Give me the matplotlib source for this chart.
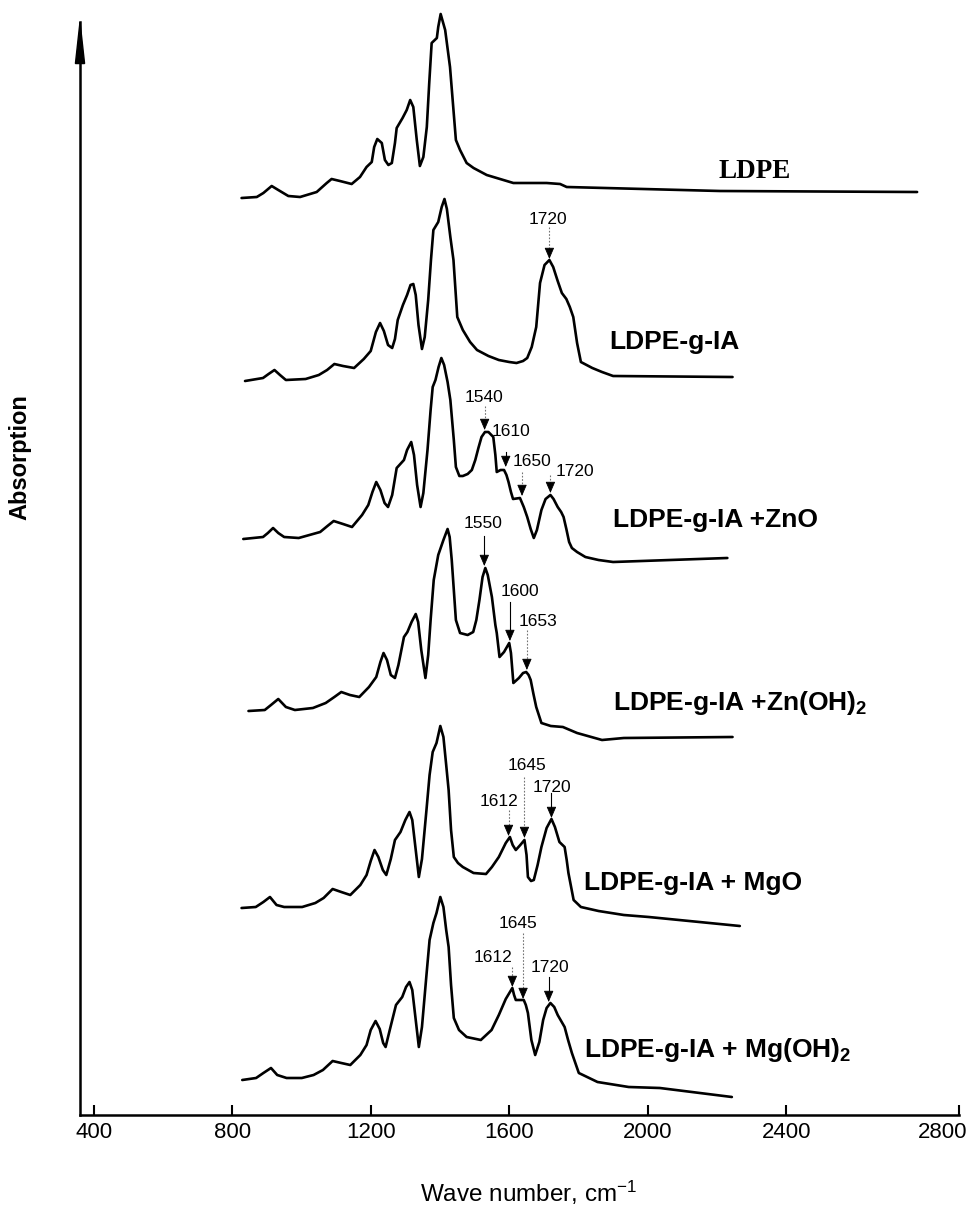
import matplotlib
matplotlib.use("Agg")
import matplotlib.pyplot as plt
import matplotlib.transforms as mtransforms
from matplotlib.patches import Polygon

plt.rcParams['font.family'] = ['Liberation Sans', 'DejaVu Sans']
plt.rcParams['mathtext.default'] = 'regular'

# spectra: wave number (cm-1) and absorption (a.u., stacked)
ldpe_wn = [827, 871, 890, 914, 933, 962, 996, 1044, 1073, 1087, 1111, 1145, 1169, 1188,
           1203, 1210, 1219, 1232, 1241, 1251, 1261, 1270, 1275, 1292, 1304, 1314, 1323,
           1333, 1342, 1352, 1362, 1369, 1376, 1391, 1395, 1402, 1415, 1429, 1439, 1446,
           1458, 1477, 1497, 1535, 1612, 1708, 1747, 1766, 2209, 2778]
ldpe_abs = [91.7, 91.8, 92.2, 92.9, 92.5, 91.9, 91.8, 92.3, 93.2, 93.6, 93.4, 93.1, 93.8,
            94.8, 95.3, 96.8, 97.6, 97.2, 95.5, 95.0, 95.2, 97.2, 98.7, 99.7, 100.5, 101.5,
            100.8, 97.5, 94.9, 95.8, 98.8, 103.2, 107.2, 107.7, 108.8, 110.1, 108.5, 104.8,
            100.5, 97.5, 96.5, 95.2, 94.7, 94.0, 93.2, 93.2, 93.1, 92.8, 92.4, 92.3]

ia_wn = [837, 889, 905, 922, 938, 955, 1012, 1050, 1074, 1095, 1120, 1152, 1180, 1200,
         1215, 1227, 1238, 1250, 1262, 1270, 1278, 1286, 1293, 1305, 1315, 1323, 1330,
         1338, 1348, 1356, 1366, 1374, 1381, 1395, 1405, 1413, 1420, 1430, 1439, 1450,
         1466, 1487, 1507, 1540, 1570, 1600, 1621, 1640, 1652, 1665, 1678, 1689, 1702,
         1716, 1727, 1740, 1752, 1765, 1775, 1785, 1796, 1807, 1840, 1868, 1900, 2245]
ia_abs = [73.4, 73.7, 74.1, 74.5, 74.0, 73.5, 73.6, 74.0, 74.5, 75.1, 74.9, 74.7, 75.6,
          76.4, 78.3, 79.2, 78.4, 77.0, 76.7, 77.6, 79.5, 80.3, 81.0, 82.0, 83.0, 83.1,
          82.0, 79.0, 76.6, 77.8, 81.5, 85.5, 88.5, 89.3, 90.8, 91.6, 90.6, 87.8, 85.5,
          79.8, 78.5, 77.3, 76.5, 75.9, 75.5, 75.3, 75.2, 75.4, 75.7, 76.8, 78.8, 83.2,
          85.0, 85.5, 84.8, 83.4, 82.2, 81.6, 80.8, 79.8, 77.2, 75.3, 74.7, 74.3, 73.9,
          73.8]

zno_wn = [832, 889, 903, 918, 933, 950, 992, 1054, 1075, 1093, 1120, 1146, 1175, 1193,
          1205, 1216, 1228, 1240, 1250, 1262, 1275, 1296, 1305, 1317, 1325, 1334, 1344,
          1352, 1364, 1373, 1379, 1387, 1396, 1404, 1412, 1422, 1430, 1440, 1446, 1456,
          1466, 1480, 1492, 1502, 1511, 1520, 1530, 1540, 1554, 1560, 1564, 1575, 1585,
          1592, 1598, 1605, 1611, 1631, 1642, 1652, 1662, 1671, 1680, 1693, 1705, 1719,
          1728, 1740, 1750, 1757, 1765, 1773, 1781, 1796, 1820, 1858, 1900, 2230]
zno_abs = [57.6, 57.8, 58.2, 58.7, 58.2, 57.8, 57.7, 58.3, 58.9, 59.4, 59.1, 58.8, 60.0,
           61.0, 62.3, 63.3, 62.5, 61.2, 60.8, 62.0, 64.7, 65.5, 66.5, 67.3, 66.0, 63.0,
           60.8, 62.2, 66.5, 70.5, 72.8, 73.5, 74.8, 75.7, 75.0, 73.3, 71.5, 67.5, 64.8,
           63.9, 63.9, 64.1, 64.5, 65.5, 66.7, 67.8, 68.3, 68.3, 67.8, 66.0, 64.3, 64.5,
           64.5, 64.0, 63.3, 62.3, 61.6, 61.7, 60.8, 59.8, 58.6, 57.7, 58.5, 60.5, 61.6,
           62.0, 61.6, 60.8, 60.3, 59.8, 58.6, 57.3, 56.7, 56.3, 55.8, 55.5, 55.3, 55.7]

znoh_wn = [847, 894, 912, 933, 955, 981, 1033, 1070, 1095, 1115, 1140, 1167, 1195, 1216,
           1228, 1237, 1247, 1258, 1270, 1280, 1296, 1306, 1318, 1330, 1337, 1346, 1358,
           1366, 1373, 1382, 1395, 1410, 1422, 1428, 1434, 1440, 1446, 1458, 1480, 1496,
           1505, 1514, 1523, 1531, 1538, 1550, 1560, 1564, 1572, 1585, 1600, 1605, 1612,
           1628, 1640, 1649, 1656, 1662, 1670, 1678, 1693, 1720, 1755, 1796, 1868, 1931,
           2245]
znoh_abs = [40.4, 40.5, 41.0, 41.6, 40.8, 40.5, 40.7, 41.2, 41.8, 42.3, 42.0, 41.8, 42.8,
            43.8, 45.3, 46.2, 45.5, 44.0, 43.7, 45.0, 47.8, 48.3, 49.3, 50.1, 49.3, 46.5,
            43.7, 46.0, 49.5, 53.5, 56.0, 57.5, 58.6, 57.8, 55.5, 52.5, 49.5, 48.2, 48.0,
            48.3, 49.5, 51.5, 53.8, 54.7, 54.0, 51.8, 49.0, 48.2, 45.8, 46.3, 47.2, 46.2,
            43.2, 43.7, 44.2, 44.3, 44.0, 43.5, 42.1, 40.8, 39.2, 38.9, 38.8, 38.2, 37.5,
            37.7, 37.8]

mgo_wn = [827, 868, 890, 909, 928, 950, 1002, 1040, 1064, 1090, 1115, 1141, 1170, 1188,
          1200, 1211, 1222, 1235, 1245, 1258, 1270, 1286, 1300, 1312, 1320, 1330, 1339,
          1348, 1361, 1370, 1379, 1390, 1401, 1410, 1418, 1425, 1432, 1440, 1452, 1466,
          1497, 1533, 1550, 1570, 1590, 1602, 1610, 1619, 1632, 1644, 1650, 1654, 1663,
          1671, 1682, 1693, 1708, 1722, 1732, 1745, 1760, 1766, 1771, 1786, 1807, 1858,
          1931, 2003, 2266]
mgo_abs = [20.7, 20.8, 21.3, 21.8, 21.0, 20.8, 20.8, 21.2, 21.7, 22.6, 22.3, 22.0, 23.0,
           24.0, 25.4, 26.5, 25.8, 24.5, 24.0, 25.6, 27.5, 28.3, 29.5, 30.3, 29.5, 26.5,
           23.8, 25.6, 30.5, 34.0, 36.3, 37.2, 38.9, 37.8, 35.0, 32.5, 28.5, 25.8, 25.2,
           24.8, 24.2, 24.1, 24.8, 25.8, 27.2, 27.8, 27.0, 26.5, 27.0, 27.5, 26.0, 23.8,
           23.4, 23.5, 25.0, 26.8, 28.7, 29.6, 28.8, 27.3, 26.8, 25.5, 24.2, 21.5, 20.8,
           20.4, 20.0, 19.8, 18.9]

mgoh_wn = [829, 869, 890, 912, 930, 957, 1001, 1035, 1062, 1090, 1115, 1141, 1170, 1188,
           1200, 1214, 1226, 1236, 1243, 1255, 1273, 1291, 1302, 1312, 1320, 1330, 1339,
           1348, 1361, 1370, 1381, 1390, 1401, 1410, 1418, 1425, 1432, 1440, 1455, 1477,
           1518, 1549, 1570, 1590, 1609, 1614, 1619, 1642, 1648, 1654, 1664, 1675, 1687,
           1698, 1708, 1719, 1730, 1740, 1760, 1770, 1781, 1801, 1855, 1945, 2035, 2243]
mgoh_abs = [3.5, 3.7, 4.2, 4.7, 4.0, 3.7, 3.7, 4.0, 4.5, 5.4, 5.2, 5.0, 6.0, 7.0, 8.5,
            9.4, 8.6, 7.2, 6.8, 8.5, 11.0, 11.8, 12.8, 13.3, 12.5, 9.5, 6.8, 8.8, 14.0,
            17.5, 19.2, 20.2, 21.8, 20.8, 18.5, 16.8, 13.0, 9.7, 8.5, 7.8, 7.5, 8.5, 10.0,
            11.6, 12.7, 12.0, 11.5, 11.5, 11.0, 10.2, 7.5, 6.0, 7.3, 9.5, 10.7, 11.2, 10.8,
            10.0, 8.8, 7.5, 6.2, 4.2, 3.3, 2.8, 2.7, 1.8]

sample_names = ['LDPE', 'LDPE-g-IA', 'LDPE-g-IA +ZnO', 'LDPE-g-IA +Zn(OH)$_2$',
                'LDPE-g-IA + MgO', 'LDPE-g-IA + Mg(OH)$_2$']

# peak marks: text, label (wn, abs), arrow wn, arrow from abs, arrow tip abs, dotted shaft
peak_marks = [
    ('1720', 1713, 89.5, 1716, 88.8, 85.6, True),
    ('1540', 1526, 71.8, 1529, 70.9, 68.5, True),
    ('1610', 1605, 68.3, 1590, 66.3, 64.8, False),
    ('1650', 1666, 65.3, 1637, 64.3, 61.9, True),
    ('1720', 1791, 64.4, 1719, 64.0, 62.2, True),
    ('1550', 1525, 59.1, 1528, 57.9, 54.9, False),
    ('1600', 1631, 52.4, 1602, 51.3, 47.4, False),
    ('1653', 1684, 49.4, 1651, 48.5, 44.5, True),
    ('1612', 1570, 31.3, 1598, 30.5, 27.9, True),
    ('1645', 1652, 34.9, 1644, 33.8, 27.7, True),
    ('1720', 1724, 32.8, 1722, 32.2, 29.7, False),
    ('1612', 1554, 15.8, 1609, 14.8, 12.8, True),
    ('1645', 1626, 19.2, 1640, 18.2, 11.6, True),
    ('1720', 1719, 14.7, 1714, 13.8, 11.3, False),
]

fig = plt.figure(figsize=(9.76, 12.08), dpi=100)
ax = fig.add_axes([80 / 976, 93 / 1208, 879 / 976, 1093 / 1208])

for wn, a in [(ldpe_wn, ldpe_abs), (ia_wn, ia_abs), (zno_wn, zno_abs),
              (znoh_wn, znoh_abs), (mgo_wn, mgo_abs), (mgoh_wn, mgoh_abs)]:
    ax.plot(wn, a, color='black', lw=1.9, clip_on=False,
            solid_joinstyle='round', solid_capstyle='round')

# sample names
ax.text(2203, 94.3, sample_names[0], family=['Liberation Serif'], fontweight='bold',
        fontsize=19.5, va='center', ha='left')
name_pos = [(1888, 77.3), (1900, 59.5), (1900, 41.2), (1817, 23.2), (1817, 6.5)]
for name, (x, y) in zip(sample_names[1:], name_pos):
    ax.text(x, y, name, fontweight='bold', fontsize=19, va='center', ha='left')

# peak arrows
for txt, lx, ly, axx, y0, y1, dotted in peak_marks:
    ax.text(lx, ly, txt, fontsize=12.5, ha='center', va='center')
    if dotted:
        ax.plot([axx, axx], [y0, y1 + 0.6], color='0.45', lw=0.8, ls=(0, (1.5, 1.5)))
    else:
        ax.plot([axx, axx], [y0, y1 + 0.6], color='black', lw=0.8)
    ax.annotate('', xy=(axx, y1), xytext=(axx, y1 + 1.0),
                arrowprops=dict(arrowstyle='-|>,head_length=0.7,head_width=0.3',
                                mutation_scale=10, color='black', lw=0.6,
                                shrinkA=0, shrinkB=0))

ax.set_xlim(360.4, 2899)
ax.set_ylim(0, 109.3)
ax.set_xticks([400, 800, 1200, 1600, 2000, 2400, 2899])
ax.set_xticklabels(['400', '800', '1200', '1600', '2000', '2400', '2800'], fontsize=16)
ax.set_yticks([])
ax.tick_params(axis='x', direction='in', length=7, width=1.5, pad=5)
last = ax.get_xticklabels()[-1]
last.set_transform(last.get_transform() +
                   mtransforms.ScaledTranslation(-0.16, 0, fig.dpi_scale_trans))

for s in ['top', 'right']:
    ax.spines[s].set_visible(False)
for s in ['left', 'bottom']:
    ax.spines[s].set_linewidth(1.8)

# arrow head at the top of the y axis
ax.add_patch(Polygon([[-0.0052, 0.962], [0.0052, 0.962], [0, 1.0]], closed=True,
                     transform=ax.transAxes, color='black', clip_on=False))

ax.set_xlabel('Wave number, cm$^{-1}$', fontsize=17.5)
ax.xaxis.label.set_va('center')
ax.xaxis.set_label_coords(0.51, -0.0714)
ax.set_ylabel('Absorption', fontsize=17, fontweight='bold')
ax.yaxis.label.set_va('center')
ax.yaxis.set_label_coords(-0.068, 0.602)

plt.savefig('out.png', dpi=100)
